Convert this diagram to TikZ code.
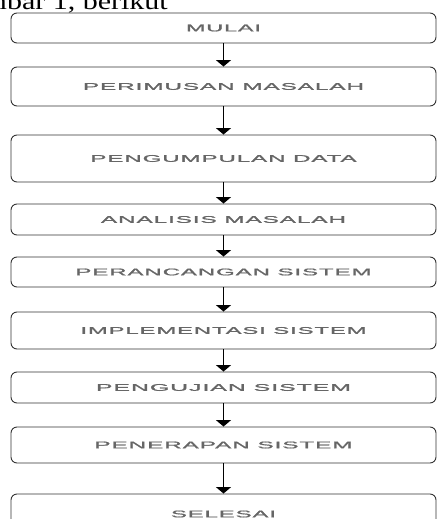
\documentclass[tikz,border=0pt]{standalone}
\usepackage{fontspec}
\setmainfont{Liberation Serif}
\newfontfamily\boxfont{Liberation Sans}[LetterSpace=4, FakeBold=1.2]
\usetikzlibrary{arrows.meta}

% label text fitted to a given width and a fixed cap height
\newcommand{\widelabel}[2]{\resizebox{#1pt}{6.8pt}{\boxfont #2}}

\tikzset{
  stage/.style={draw=black!80, line width=0.9pt, rounded corners=6pt,
    minimum width=425pt, inner sep=0pt, text=black!60},
  flow/.style={line width=1.4pt, draw=black,
    -{Triangle[width=15pt,length=6.5pt]}}
}

\begin{document}
\begin{tikzpicture}[x=1pt, y=-1pt]
  \useasboundingbox (0,0) rectangle (437,519);
  \clip (0,0) rectangle (437,519);

  % line of body text above the chart
  \node[anchor=base east, inner sep=0pt, font=\fontsize{24}{24}\selectfont]
    (caption) at (168,9.5) {\scalebox{1.25}[1]{mbar 1, berikut}};

  % process stages
  \node[stage, minimum height=30pt] (b1) at (223.5,28)    {\widelabel{75}{MULAI}};
  \node[stage, minimum height=39pt] (b2) at (223.5,86.5)  {\widelabel{281}{PERIMUSAN MASALAH}};
  \node[stage, minimum height=47pt] (b3) at (223.5,158.5) {\widelabel{266}{PENGUMPULAN DATA}};
  \node[stage, minimum height=31pt] (b4) at (223.5,219.5) {\widelabel{245}{ANALISIS MASALAH}};
  \node[stage, minimum height=30pt] (b5) at (223.5,272)   {\widelabel{296}{PERANCANGAN SISTEM}};
  \node[stage, minimum height=37pt] (b6) at (223.5,330.5) {\widelabel{286}{IMPLEMENTASI SISTEM}};
  \node[stage, minimum height=31pt] (b7) at (223.5,387.5) {\widelabel{255}{PENGUJIAN SISTEM}};
  \node[stage, minimum height=36pt] (b8) at (223.5,445)   {\widelabel{258}{PENERAPAN SISTEM}};
  \node[stage, minimum height=40pt] (b9) at (223.5,514)   {\widelabel{105}{SELESAI}};

  % connectors
  \foreach \a/\b in {b1/b2,b2/b3,b3/b4,b4/b5,b5/b6,b6/b7,b7/b8,b8/b9}
    \draw[flow] (\a) -- (\b);
\end{tikzpicture}
\end{document}
